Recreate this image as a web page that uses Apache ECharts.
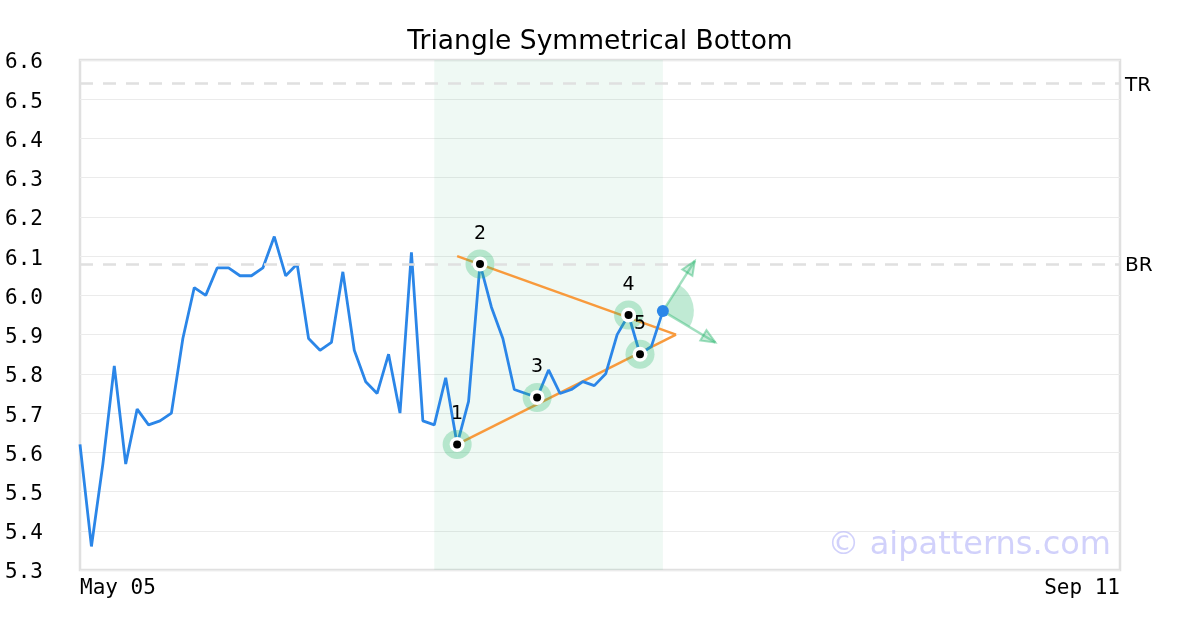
<!DOCTYPE html>
<html>
<head>
<meta charset="utf-8">
<script src="https://cdn.jsdelivr.net/npm/echarts@6/dist/echarts.min.js"></script>
<style>
html,body{margin:0;padding:0;background:#fff;}
#c{width:1200px;height:630px;}
</style>
</head>
<body>
<div id="c"></div>
<script>
// ---- data ----
const chartTitle = 'Triangle Symmetrical Bottom';
const xTickLabels = ['May 05', 'Sep 11'];
const xSlotCount = 92; // trading-day slots on the axis
const closes = [5.62, 5.36, 5.57, 5.82, 5.57, 5.71, 5.67, 5.68, 5.70, 5.89,
                6.02, 6.00, 6.07, 6.07, 6.05, 6.05, 6.07, 6.15, 6.05, 6.08,
                5.89, 5.86, 5.88, 6.06, 5.86, 5.78, 5.75, 5.85, 5.70, 6.11,
                5.68, 5.67, 5.79, 5.62, 5.73, 6.08, 5.97, 5.89, 5.76, 5.75,
                5.74, 5.81, 5.75, 5.76, 5.78, 5.77, 5.80, 5.90, 5.95, 5.85,
                5.87, 5.96];
const yMin = 5.3, yMax = 6.6, yStep = 0.1;
const patternIdx = [33, 35, 40, 48, 49];
const patternLabels = ['1', '2', '3', '4', '5'];
const upperLine = [[33, 6.10], [52.15, 5.90]];
const lowerLine = [[33, 5.62], [52.15, 5.90]];
const zoneRange = [31, 51];
const levelValues = [6.54, 6.08];
const levelNames = ['TR', 'BR'];
const arrowFrom = [51, 5.96];
const arrowUp = [53.8, 6.088];
const arrowDown = [55.6, 5.88];
const watermark = '© aipatterns.com';

// ---- chart ----
const mono = '"DejaVu Sans Mono", monospace';
const sans = '"DejaVu Sans", sans-serif';
const green = 'rgba(46,184,114,';
const lineData = closes.map((v, i) => [i, v]);
const patternData = patternIdx.map((i, k) => ({ value: [i, closes[i]], label: { formatter: patternLabels[k] } }));
const patternPts = patternIdx.map(i => [i, closes[i]]);
const lastIdx = closes.length - 1;

const chart = echarts.init(document.getElementById('c'), null, { renderer: 'canvas' });
chart.setOption({
  animation: false,
  backgroundColor: '#fff',
  title: {
    text: chartTitle, left: 'center', top: 24,
    textStyle: { fontFamily: sans, fontSize: 26.5, fontWeight: 'normal', color: '#000' }
  },
  grid: { left: 80, right: 80, top: 60, bottom: 60, show: true, borderColor: '#e0e0e0', borderWidth: 2.5, backgroundColor: 'transparent' },
  xAxis: {
    type: 'value', min: 0, max: xSlotCount - 1, interval: xSlotCount - 1,
    axisLine: { show: false }, axisTick: { show: false }, splitLine: { show: false },
    axisLabel: {
      margin: 8, fontFamily: mono, fontSize: 21, color: '#000',
      alignMinLabel: 'left', alignMaxLabel: 'right',
      formatter: v => v === 0 ? xTickLabels[0] : (v === xSlotCount - 1 ? xTickLabels[1] : '')
    }
  },
  yAxis: {
    type: 'value', min: yMin, max: yMax, interval: yStep,
    axisLine: { show: false }, axisTick: { show: false },
    splitLine: { lineStyle: { color: '#ebebeb', width: 1 } },
    axisLabel: { margin: 75, align: 'left', verticalAlign: 'top', lineHeight: 6, fontFamily: mono, fontSize: 21, color: '#000', formatter: v => v.toFixed(1) }
  },
  graphic: [{
    type: 'text', right: 89, top: 530, z: 100,
    style: { text: watermark, fontFamily: sans, fontSize: 32, fill: 'rgba(190,190,250,0.7)' }
  }],
  series: [
    {
      type: 'line', data: [], z: 1,
      markArea: { silent: true, itemStyle: { color: green + '0.08)' }, data: [[{ xAxis: zoneRange[0] }, { xAxis: zoneRange[1] }]] },
      markLine: {
        silent: true, symbol: ['none', 'none'],
        lineStyle: { type: [13, 10], color: '#e0e0e0', width: 2.5 },
        label: { position: 'end', distance: 5, verticalAlign: 'top', lineHeight: 4, fontFamily: sans, fontSize: 20, color: '#000', formatter: p => p.name },
        data: levelValues.map((v, k) => ({ yAxis: v, name: levelNames[k] }))
      }
    },
    { type: 'line', data: upperLine, showSymbol: false, lineStyle: { color: '#f89a3c', width: 2.5 }, z: 2 },
    { type: 'line', data: lowerLine, showSymbol: false, lineStyle: { color: '#f89a3c', width: 2.5 }, z: 2 },
    { type: 'line', data: lineData, showSymbol: false, lineStyle: { color: '#2b86e8', width: 2.8 }, z: 3 },
    {
      type: 'scatter', data: patternData, symbolSize: 29, z: 4,
      itemStyle: { color: green + '0.3)', opacity: 1 },
      label: { show: true, position: 'top', distance: 6, fontFamily: sans, fontSize: 19, color: '#000' }
    },
    { type: 'scatter', data: patternPts, symbolSize: 15, z: 5, itemStyle: { color: '#fff', opacity: 1 } },
    { type: 'scatter', data: patternPts, symbolSize: 8, z: 6, itemStyle: { color: '#000', opacity: 1 } },
    {
      type: 'custom', z: 7, data: [arrowFrom],
      renderItem: function (params, api) {
        const c = api.coord([api.value(0), api.value(1)]);
        const pu = api.coord(arrowUp);
        const pd = api.coord(arrowDown);
        const a1 = Math.atan2(pu[1] - c[1], pu[0] - c[0]);
        const a2 = Math.atan2(pd[1] - c[1], pd[0] - c[0]);
        function head(p) {
          const ang = Math.atan2(p[1] - c[1], p[0] - c[0]);
          const L = 14, W = 6;
          const bx = p[0] - L * Math.cos(ang), by = p[1] - L * Math.sin(ang);
          const nx = -Math.sin(ang) * W, ny = Math.cos(ang) * W;
          return {
            type: 'polygon',
            shape: { points: [[p[0], p[1]], [bx + nx, by + ny], [bx - nx, by - ny]] },
            style: { fill: green + '0.25)', stroke: green + '0.45)', lineWidth: 2 }
          };
        }
        return {
          type: 'group',
          children: [
            { type: 'sector', shape: { cx: c[0], cy: c[1], r0: 0, r: 31, startAngle: a1, endAngle: a2, clockwise: true }, style: { fill: green + '0.3)' } },
            { type: 'line', shape: { x1: c[0], y1: c[1], x2: pu[0], y2: pu[1] }, style: { stroke: green + '0.45)', lineWidth: 2.5 } },
            { type: 'line', shape: { x1: c[0], y1: c[1], x2: pd[0], y2: pd[1] }, style: { stroke: green + '0.45)', lineWidth: 2.5 } },
            head(pu), head(pd)
          ]
        };
      }
    },
    {
      type: 'scatter', data: [[lastIdx, closes[lastIdx]]], symbolSize: 12, z: 8,
      itemStyle: { color: '#2b86e8', opacity: 1 }
    }
  ]
});
</script>
</body>
</html>
